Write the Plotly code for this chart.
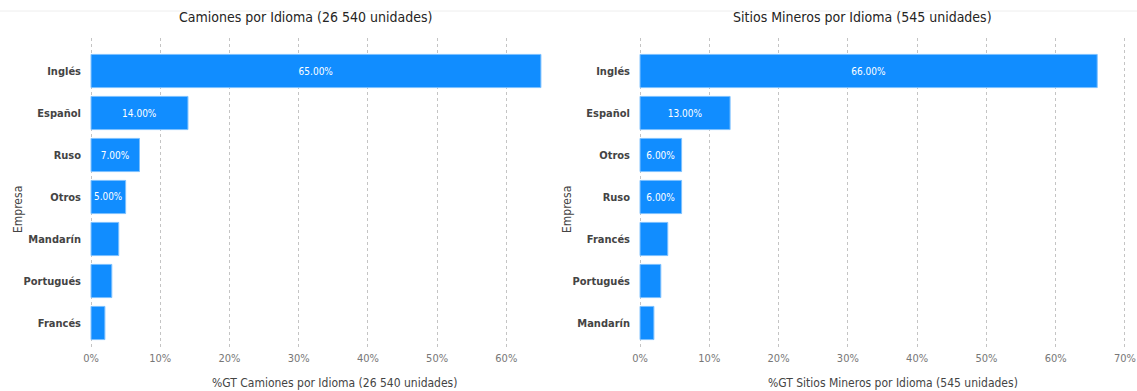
import plotly.graph_objects as go

# ---- data ----
camiones_langs = ["Inglés", "Español", "Ruso", "Otros", "Mandarín", "Portugués", "Francés"]
camiones_pct = [65, 14, 7, 5, 4, 3, 2]

sitios_langs = ["Inglés", "Español", "Otros", "Ruso", "Francés", "Portugués", "Mandarín"]
sitios_pct = [66, 13, 6, 6, 4, 3, 2]

left_ticks = [0, 10, 20, 30, 40, 50, 60]
right_ticks = [0, 10, 20, 30, 40, 50, 60, 70]

title_left = "Camiones por Idioma (26 540 unidades)"
title_right = "Sitios Mineros por Idioma (545 unidades)"
xtitle_left = "%GT Camiones por Idioma (26 540 unidades)"
xtitle_right = "%GT Sitios Mineros por Idioma (545 unidades)"
ytitle = "Empresa"

W, H = 1137, 391
FONT = "DejaVu Sans Condensed, Roboto, Arial"
BAR = "#118DFF"


def labels(vals):
    return [f"{v:.2f}%" if v >= 5 else "" for v in vals]


fig = go.Figure()
fig.add_trace(go.Bar(
    x=camiones_pct, y=camiones_langs, orientation="h",
    marker=dict(color=BAR, line=dict(color="#7cc0ff", width=1)),
    text=labels(camiones_pct), textposition="inside", insidetextanchor="middle",
    textfont=dict(color="white", size=10, family=FONT),
    xaxis="x", yaxis="y", hoverinfo="skip", cliponaxis=False,
))
fig.add_trace(go.Bar(
    x=sitios_pct, y=sitios_langs, orientation="h",
    marker=dict(color=BAR, line=dict(color="#7cc0ff", width=1)),
    text=labels(sitios_pct), textposition="inside", insidetextanchor="middle",
    textfont=dict(color="white", size=10, family=FONT),
    xaxis="x2", yaxis="y2", hoverinfo="skip", cliponaxis=False,
))

top_px, bot_px = 38, 350
ydom = [1 - bot_px / H, 1 - top_px / H]
yrange = [6 + 27 / 42, -33 / 42]

grid = dict(showgrid=True, gridcolor="#c4c4c4", griddash="dot", gridwidth=1,
            zeroline=False, showline=False, ticks="", automargin=False,
            tickfont=dict(size=11, color="#777777", family=FONT))

ycommon = dict(domain=ydom, type="category", range=yrange, automargin=False,
               showgrid=False, zeroline=False, ticks="", ticklabelstandoff=8,
               tickfont=dict(size=11, color="#444444", family=FONT, weight="bold"))

fig.update_layout(
    width=W, height=H,
    margin=dict(l=0, r=0, t=0, b=0, autoexpand=False),
    paper_bgcolor="white", plot_bgcolor="white",
    showlegend=False, bargap=0.21,
    font=dict(family=FONT),
    xaxis=dict(domain=[90 / W, 543 / W], range=[-0.15, 65.3], tickvals=left_ticks,
               ticktext=[f"{t}%" for t in left_ticks], anchor="y", **grid),
    xaxis2=dict(domain=[639 / W, 1127 / W], range=[-0.15, 70.3], tickvals=right_ticks,
                ticktext=[f"{t}%" for t in right_ticks], anchor="y2", **grid),
    yaxis=dict(categoryarray=camiones_langs, anchor="x", **ycommon),
    yaxis2=dict(categoryarray=sitios_langs, anchor="x2", **ycommon),
)


def note(text, xpx, ypx, size, color, angle=0):
    return dict(text=text, x=xpx / W, y=1 - ypx / H, xref="paper", yref="paper",
                xanchor="center", yanchor="middle", textangle=angle,
                showarrow=False, font=dict(size=size, color=color, family=FONT))


fig.update_layout(annotations=[
    note(title_left, 305, 17, 14, "#252423"),
    note(title_right, 862, 17, 14, "#252423"),
    note(xtitle_left, 334, 383, 12, "#444444"),
    note(xtitle_right, 893, 383, 12, "#444444"),
    note(ytitle, 18, 210, 12, "#444444", -90),
    note(ytitle, 567, 210, 12, "#444444", -90),
])

fig.add_shape(type="line", xref="paper", yref="paper", x0=0.0, x1=1.0,
              y0=1 - 11 / H, y1=1 - 11 / H, line=dict(color="#eeeeee", width=1))

fig.write_html("out.html", config={"displayModeBar": False},
               post_script="document.body.style.margin='0';")
